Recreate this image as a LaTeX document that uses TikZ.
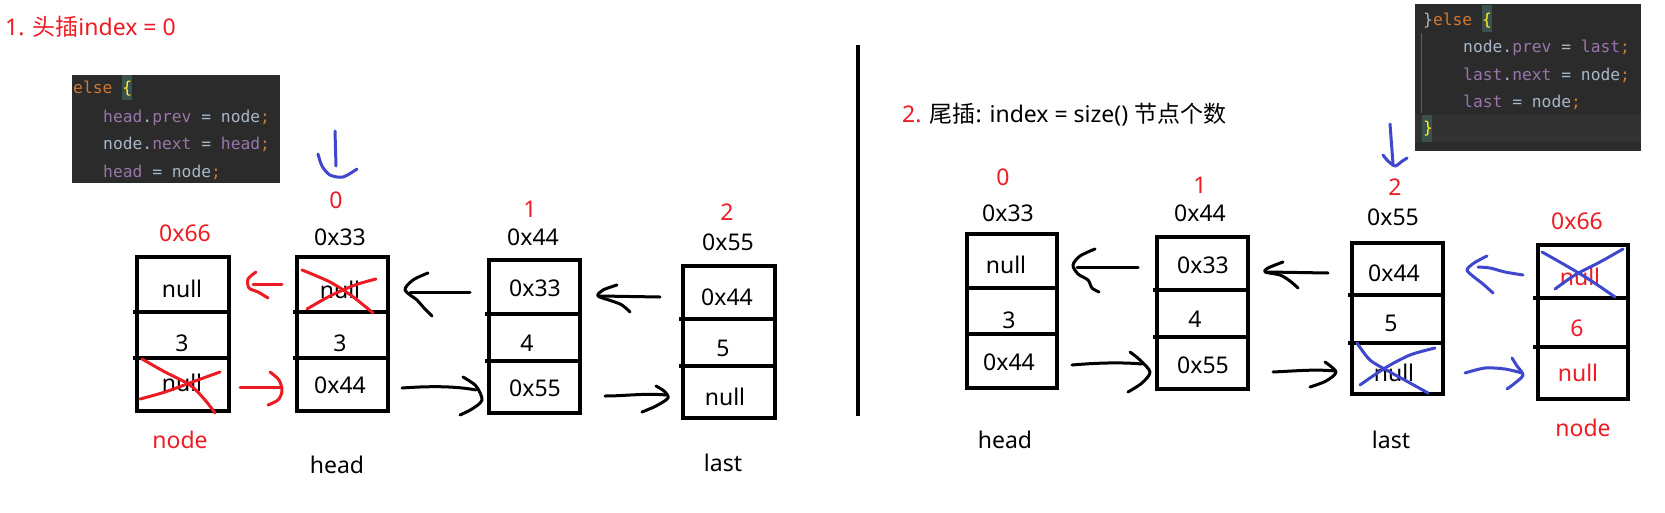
\documentclass[tikz,border=0pt]{standalone}
\usepackage{fontspec}
\setmainfont{Noto Sans}
\setmonofont{DejaVu Sans Mono}
\newfontfamily\cjk{Noto Sans CJK SC}
\definecolor{pred}{HTML}{ED1C24}
\definecolor{pblue}{HTML}{3F48CC}
\definecolor{codebg}{HTML}{2B2B2B}
\definecolor{ckw}{HTML}{CC7832}
\definecolor{cfld}{HTML}{9876AA}
\definecolor{ctxt}{HTML}{A9B7C6}
\definecolor{cbrace}{HTML}{FFEF28}
\definecolor{cbracebg}{HTML}{3B514D}
\definecolor{ccur}{HTML}{323232}
\definecolor{cguide}{HTML}{4F6B55}
\newcommand\llcells[8]{% name, left, right, top, d1, d2, bottom, left extension
  \node[draw, line width=4pt, inner sep=0pt, minimum width=#3-#2, minimum height=#7-#4] (#1) at ({(#2+#3)/2},{(#4+#7)/2}) {};
  \draw[line width=4pt] (#2-#8,#5) -- (#3,#5);
  \draw[line width=4pt] (#2-#8,#6) -- (#3,#6);
}
\begin{document}
\begin{tikzpicture}[x=1pt,y=-1pt,
  lbl/.style={font=\fontsize{23}{26}\selectfont, inner sep=0pt},
  rlbl/.style={lbl, text=pred},
  code/.style={font=\ttfamily\fontsize{16.3}{18}\selectfont, inner sep=0pt, anchor=base west, text=ctxt},
  hand/.style={line width=3pt, line cap=round, line join=round},
  redhand/.style={hand, draw=pred},
  bluehand/.style={hand, draw=pblue},
]
\useasboundingbox[fill=white] (0,0) rectangle (1665,512);

% ---------------- titles ----------------
\node[rlbl, anchor=west] (t1) at (5,27) {1. {\cjk 头插}index = 0};
\node[lbl, anchor=west] (t2) at (902,115) {{\color{pred}2.} {\cjk 尾插}: index = size() {\cjk 节点个数}};

% ---------------- left code ----------------
\fill[codebg] (72,75) rectangle (280,183);
\fill[cbracebg] (122,75) rectangle (132,100);
\node[code] (cl1) at (73,93) {{\color{ckw}else }{\color{cbrace}\{}};
\node[code] (cl2) at (103,122) {{\color{cfld}head}.{\color{cfld}prev} = node{\color{ckw};}};
\node[code] (cl3) at (103,149) {node.{\color{cfld}next} = {\color{cfld}head}{\color{ckw};}};
\node[code] (cl4) at (103,177) {{\color{cfld}head} = node{\color{ckw};}};

% ---------------- right code ----------------
\fill[codebg] (1415,4) rectangle (1641,151);
\fill[ccur] (1415,115) rectangle (1641,142);
\fill[cbracebg] (1482,5) rectangle (1492,32);
\fill[cbracebg] (1422,115) rectangle (1432,142);
\draw[cguide, line width=1pt] (1421,33) -- (1421,113);
\node[code] (cr1) at (1423,25) {\}{\color{ckw}else }{\color{cbrace}\{}};
\node[code] (cr2) at (1463,52) {node.{\color{cfld}prev} = {\color{cfld}last}{\color{ckw};}};
\node[code] (cr3) at (1463,80) {{\color{cfld}last}.{\color{cfld}next} = node{\color{ckw};}};
\node[code] (cr4) at (1463,107) {{\color{cfld}last} = node{\color{ckw};}};
\node[code] (cr5) at (1423,133) {{\color{cbrace}\}}};

% ---------------- divider ----------------
\draw[line width=3.5pt] (858,45) -- (858,416);

% ---------------- left boxes ----------------
\llcells{Lnode}{137}{229}{257}{312}{358}{411}{4}
\llcells{Lhead}{297}{388}{257}{312}{358}{411}{4}
\llcells{Lb44}{489}{580}{260}{314}{361}{413}{4}
\llcells{Lb55}{683}{775}{266}{319}{366}{418}{4}

\node[lbl] (Lna) at (182,289) {null};
\node[lbl] (Lnb) at (182,343) {3};
\node[lbl] (Lnc) at (182,383) {null};
\node[lbl] (Lha) at (340,290) {null};
\node[lbl] (Lhb) at (340,343) {3};
\node[lbl] (Lhc) at (340,385) {0x44};
\node[lbl] (L4a) at (535,288) {0x33};
\node[lbl] (L4b) at (527,343) {4};
\node[lbl] (L4c) at (535,388) {0x55};
\node[lbl] (L5a) at (727,297) {0x44};
\node[lbl] (L5b) at (723,348) {5};
\node[lbl] (L5c) at (725,397) {null};

\node[rlbl] (Lnadr) at (185,233) {0x66};
\node[rlbl] (Li0) at (336,200) {0};
\node[lbl] (Lhadr) at (340,237) {0x33};
\node[rlbl] (Li1) at (530,209) {1};
\node[lbl] (L4adr) at (533,237) {0x44};
\node[rlbl] (Li2) at (727,212) {2};
\node[lbl] (L5adr) at (728,242) {0x55};
\node[rlbl] (Lnname) at (180,440) {node};
\node[lbl] (Lhname) at (337,465) {head};
\node[lbl] (Llname) at (723,463) {last};

% red crosses
\draw[redhand] plot[smooth] coordinates {(302,270) (330,282) (352,296) (373,313)};
\draw[redhand] plot[smooth] coordinates {(307,309) (330,296) (355,285) (376,279)};
\draw[redhand] plot[smooth] coordinates {(142,359) (165,372) (190,385) (205,400) (215,413)};
\draw[redhand] plot[smooth] coordinates {(140,399) (165,392) (195,381) (220,372)};

% black hand arrows (left)
\draw[hand] (470,292) -- (410,292);
\draw[hand] plot[smooth] coordinates {(428,273) (413,280) (405,290) (417,300) (424,308) (432,316)};
\draw[hand] (402,388) .. controls (430,386) and (455,386) .. (476,390);
\draw[hand] plot[smooth] coordinates {(463,377) (476,386) (482,400) (472,409) (460,415)};
\draw[hand] (660,297) -- (600,296);
\draw[hand] plot[smooth] coordinates {(617,285) (603,290) (598,296) (612,301) (622,305) (630,312)};
\draw[hand] (605,396) .. controls (625,396) and (645,393) .. (666,395);
\draw[hand] plot[smooth] coordinates {(656,386) (664,391) (668,398) (656,406) (642,412)};

% red hand arrows (left)
\draw[redhand] (282,284) -- (253,284);
\draw[redhand] plot[smooth] coordinates {(256,272) (248,279) (249,288) (258,292) (268,298)};
\draw[redhand] (240,387) -- (282,387);
\draw[redhand] plot[smooth] coordinates {(270,372) (279,380) (282,391) (278,400) (268,405)};

% blue down arrow (left)
\draw[bluehand] (335,131) -- (336,166);
\draw[bluehand] plot[smooth] coordinates {(318,154) (322,166) (330,175) (343,177) (357,169)};

% ---------------- right boxes ----------------
\llcells{Rhead}{967}{1057}{234}{288}{334}{388}{0}
\llcells{Rb44}{1157}{1248}{237}{290}{337}{389}{4}
\llcells{Rlast}{1352}{1443}{243}{295}{343}{394}{4}
\llcells{Rnode}{1538}{1628}{245}{298}{347}{399}{5}

\node[lbl] (Rha) at (1006,265) {null};
\node[lbl] (Rhb) at (1009,320) {3};
\node[lbl] (Rhc) at (1009,362) {0x44};
\node[lbl] (R4a) at (1203,265) {0x33};
\node[lbl] (R4b) at (1195,319) {4};
\node[lbl] (R4c) at (1203,365) {0x55};
\node[lbl] (R5a) at (1394,273) {0x44};
\node[lbl] (R5b) at (1391,323) {5};
\node[lbl] (R5c) at (1394,373) {null};
\node[rlbl] (R6a) at (1580,277) {null};
\node[rlbl] (R6b) at (1577,328) {6};
\node[rlbl] (R6c) at (1578,373) {null};

\node[rlbl] (Ri0) at (1003,177) {0};
\node[lbl] (Rhadr) at (1008,213) {0x33};
\node[rlbl] (Ri1) at (1200,185) {1};
\node[lbl] (R4adr) at (1200,213) {0x44};
\node[rlbl] (Ri2) at (1395,187) {2};
\node[lbl] (R5adr) at (1393,217) {0x55};
\node[rlbl] (R6adr) at (1577,221) {0x66};
\node[lbl] (Rhname) at (1005,440) {head};
\node[lbl] (Rlname) at (1391,440) {last};
\node[rlbl] (Rnname) at (1583,428) {node};

% black hand arrows (right)
\draw[hand] (1138,267) -- (1077,267);
\draw[hand] plot[smooth] coordinates {(1095,249) (1080,256) (1073,265) (1078,274) (1088,280) (1092,288) (1099,292)};
\draw[hand] (1072,365) .. controls (1095,363) and (1120,362) .. (1142,364);
\draw[hand] plot[smooth] coordinates {(1130,352) (1140,360) (1150,372) (1142,383) (1128,392)};
\draw[hand] (1328,273) -- (1268,272);
\draw[hand] plot[smooth] coordinates {(1283,262) (1268,268) (1265,272) (1280,275) (1290,281) (1298,288)};
\draw[hand] (1273,372) .. controls (1295,371) and (1315,369) .. (1335,371);
\draw[hand] plot[smooth] coordinates {(1325,362) (1336,372) (1326,381) (1310,387)};

% blue crosses (right)
\draw[bluehand] plot[smooth] coordinates {(1357,343) (1370,360) (1390,372) (1410,383) (1428,393)};
\draw[bluehand] plot[smooth] coordinates {(1435,348) (1410,355) (1385,368) (1360,385)};
\draw[bluehand] plot[smooth] coordinates {(1542,252) (1565,265) (1590,280) (1615,297)};
\draw[bluehand] plot[smooth] coordinates {(1555,289) (1575,275) (1600,262) (1623,249)};

% blue hand arrows (right)
\draw[bluehand] plot[smooth] coordinates {(1523,275) (1505,272) (1490,268) (1478,267)};
\draw[bluehand] plot[smooth] coordinates {(1487,256) (1474,263) (1467,270) (1474,277) (1483,284) (1493,293)};
\draw[bluehand] plot[smooth] coordinates {(1465,373) (1485,368) (1505,369) (1522,373)};
\draw[bluehand] plot[smooth] coordinates {(1512,358) (1517,366) (1523,375) (1515,383) (1507,389)};
\draw[bluehand] (1390,124) -- (1393,164);
\draw[bluehand] plot[smooth] coordinates {(1383,155) (1388,161) (1395,166) (1401,162) (1407,158)};
\end{tikzpicture}
\end{document}
